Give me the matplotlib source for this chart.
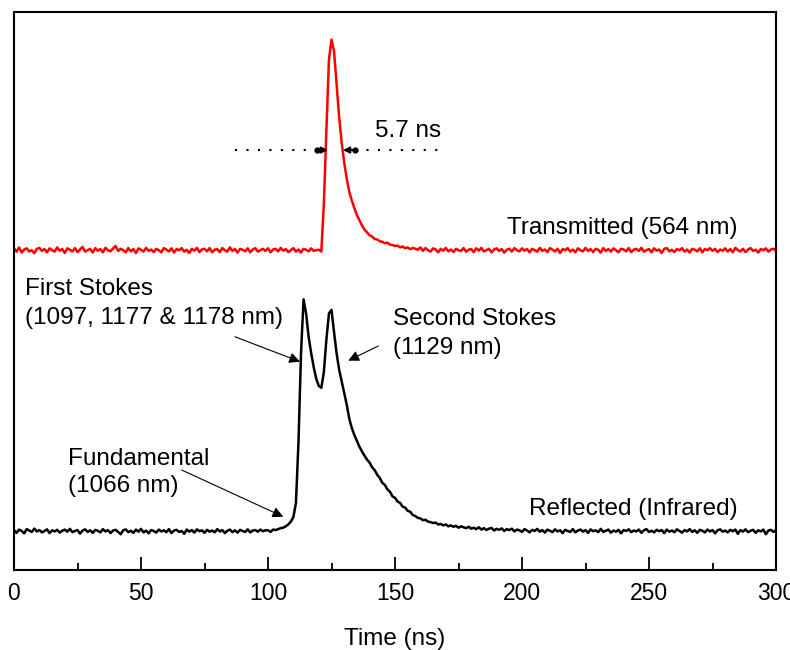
import matplotlib
matplotlib.use("Agg")
import matplotlib.pyplot as plt
import numpy as np
from matplotlib.ticker import MultipleLocator

plt.rcParams["font.family"] = ["Liberation Sans", "DejaVu Sans"]

# sampling grid of the scope traces (1 ns per sample)
time_ns = np.arange(0, 301, 1)

# reflected (infrared) signal, normalised to the first Stokes peak
reflected = [
    0.004, -0.008, 0.006, 0.000, -0.010, 0.008, 0.002, -0.004, 0.010, -0.002,
    0.004, -0.006, 0.000, 0.007, -0.009, 0.003, -0.002, 0.005, -0.007, 0.001,
    0.006, -0.003, 0.009, -0.005, 0.000, 0.004, -0.011, 0.002, 0.007, -0.004,
    0.003, -0.008, 0.005, 0.001, -0.006, 0.008, -0.002, 0.004, -0.009, 0.002,
    0.005, -0.004, -0.014, 0.003, 0.007, -0.005, 0.001, -0.008, 0.006, -0.003,
    0.009, -0.006, 0.002, -0.010, 0.004, 0.000, -0.007, 0.006, -0.002, 0.003,
    -0.005, 0.008, -0.009, 0.002, 0.005, -0.004, 0.000, -0.012, 0.006, -0.003,
    0.004, -0.007, 0.007, -0.001, 0.003, -0.008, 0.005, -0.003, 0.002, -0.006,
    0.008, -0.002, 0.004, -0.009, 0.001, 0.006, -0.005, 0.003, -0.007, 0.005,
    0.000, -0.004, 0.007, -0.006, 0.002, 0.004, -0.003, 0.006, -0.001, 0.003,
    0.003, -0.004, 0.006, 0.004, 0.008, 0.012, 0.014, 0.020, 0.028, 0.040,
    0.060, 0.120, 0.380, 0.760, 0.990, 0.930, 0.830, 0.760, 0.700, 0.650,
    0.620, 0.612, 0.680, 0.820, 0.930, 0.945, 0.850, 0.760, 0.690, 0.640,
    0.590, 0.540, 0.480, 0.440, 0.410, 0.385, 0.360, 0.340, 0.322, 0.305,
    0.292, 0.272, 0.260, 0.240, 0.227, 0.206, 0.197, 0.178, 0.168, 0.148,
    0.142, 0.126, 0.120, 0.104, 0.100, 0.086, 0.082, 0.068, 0.064, 0.056,
    0.054, 0.046, 0.048, 0.040, 0.038, 0.034, 0.036, 0.028, 0.030, 0.024,
    0.028, 0.020, 0.024, 0.018, 0.022, 0.014, 0.020, 0.016, 0.012, 0.018,
    0.010, 0.014, 0.008, 0.016, 0.006, 0.012, 0.004, 0.010, 0.013, 0.002,
    0.009, 0.005, 0.011, 0.000, 0.008, 0.004, 0.010, -0.002, 0.006, 0.003,
    -0.004, 0.008, 0.002, -0.006, 0.005, 0.000, 0.009, -0.003, 0.004, -0.007,
    0.006, 0.001, -0.005, 0.007, -0.002, 0.003, -0.009, 0.005, 0.000, -0.004,
    0.008, -0.006, 0.002, 0.006, -0.003, 0.004, -0.008, 0.007, -0.001, 0.003,
    -0.005, 0.009, -0.004, 0.001, 0.006, -0.007, 0.002, -0.003, 0.005, -0.010,
    0.004, 0.000, 0.007, -0.005, 0.002, -0.002, 0.006, -0.008, 0.003, 0.008,
    -0.004, 0.001, -0.006, 0.005, -0.001, 0.004, -0.009, 0.006, -0.003, 0.002,
    -0.005, 0.007, 0.000, -0.007, 0.004, -0.002, 0.008, -0.004, 0.003, -0.008,
    0.005, 0.001, -0.006, 0.006, -0.002, 0.004, -0.010, 0.003, 0.007, -0.003,
    0.002, -0.006, 0.005, -0.001, 0.006, -0.012, 0.004, -0.003, 0.007, -0.005,
    0.001, 0.005, -0.008, 0.003, -0.002, 0.006, -0.014, 0.002, 0.005, -0.004,
    0.003,
]

# transmitted (564 nm) signal, same scale
transmitted = [
    0.009, -0.006, 0.012, -0.010, 0.003, 0.008, -0.005, 0.000, -0.013, 0.006,
    0.010, -0.003, 0.005, -0.009, 0.008, 0.000, -0.006, 0.012, -0.002, 0.005,
    -0.012, 0.008, 0.002, -0.005, 0.009, -0.008, 0.003, 0.014, -0.006, 0.000,
    0.006, -0.010, 0.009, -0.002, 0.005, -0.009, 0.010, 0.000, -0.005, 0.008,
    0.018, -0.003, 0.006, 0.000, -0.009, 0.009, -0.005, 0.005, -0.012, 0.008,
    0.002, -0.006, 0.010, -0.003, 0.003, -0.008, 0.006, 0.000, -0.009, 0.009,
    0.003, -0.005, 0.008, -0.010, 0.005, 0.000, 0.009, -0.006, 0.002, -0.012,
    0.006, -0.002, 0.010, -0.008, 0.003, 0.006, -0.005, 0.009, -0.009, 0.002,
    0.005, -0.008, 0.009, 0.000, -0.006, 0.012, -0.003, 0.005, -0.010, 0.006,
    0.002, -0.005, 0.008, -0.009, 0.003, 0.009, -0.006, 0.000, 0.006, -0.003,
    0.008, -0.009, 0.003, 0.006, -0.005, 0.010, -0.002, 0.005, -0.008, 0.000,
    0.009, -0.006, 0.003, -0.010, 0.006, 0.002, -0.005, 0.008, -0.003, 0.000,
    0.002, -0.006, 0.200, 0.516, 0.815, 0.900, 0.850, 0.710, 0.570, 0.460,
    0.375, 0.305, 0.250, 0.212, 0.180, 0.150, 0.128, 0.106, 0.088, 0.076,
    0.064, 0.058, 0.048, 0.046, 0.038, 0.036, 0.030, 0.032, 0.024, 0.022,
    0.018, 0.020, 0.012, 0.016, 0.008, 0.012, 0.004, 0.010, 0.006, 0.002,
    0.012, -0.003, 0.009, 0.000, -0.006, 0.008, 0.003, -0.009, 0.006, -0.002,
    0.010, -0.005, 0.003, -0.008, 0.006, 0.000, -0.003, 0.009, -0.006, 0.002,
    0.005, -0.008, 0.008, -0.002, 0.010, -0.005, 0.000, 0.006, -0.009, 0.003,
    0.008, -0.003, 0.005, -0.010, 0.002, 0.006, -0.006, 0.009, 0.000, -0.005,
    0.008, -0.002, 0.005, -0.009, 0.006, 0.000, -0.006, 0.010, -0.003, 0.003,
    -0.008, 0.009, 0.002, -0.005, 0.006, -0.012, 0.005, 0.000, 0.009, -0.006,
    0.003, -0.009, 0.008, 0.000, -0.005, 0.010, -0.003, 0.005, -0.008, 0.006,
    0.002, -0.010, 0.009, -0.003, 0.005, -0.006, 0.008, 0.000, -0.009, 0.006,
    0.003, -0.005, 0.009, -0.008, 0.002, 0.006, -0.003, 0.010, -0.006, 0.000,
    0.005, -0.009, 0.008, -0.002, 0.003, -0.012, 0.006, 0.009, -0.005, 0.002,
    -0.008, 0.005, 0.000, 0.009, -0.006, 0.003, -0.010, 0.006, 0.002, -0.005,
    0.008, -0.009, 0.005, 0.000, 0.009, -0.003, 0.006, -0.008, 0.003, -0.002,
    0.008, -0.006, 0.005, -0.009, 0.010, 0.000, -0.005, 0.006, -0.008, 0.003,
    0.009, -0.003, 0.002, -0.010, 0.005, 0.000, 0.008, -0.006, 0.003, 0.006,
    -0.002,
]

transmitted_offset = 1.2

fig = plt.figure(figsize=(7.9, 6.5), dpi=100)
ax = fig.add_axes([14 / 790, 80 / 650, 762 / 790, 558 / 650])

ax.plot(time_ns, reflected, color="black", lw=1.8)
ax.plot(time_ns, np.array(transmitted) + transmitted_offset, color="#ff0000", lw=1.8)

ax.set_xlim(0, 300)
ax.set_ylim(-0.1667, 2.218)
ax.set_yticks([])
ax.xaxis.set_major_locator(MultipleLocator(50))
ax.xaxis.set_minor_locator(MultipleLocator(25))
ax.tick_params(axis="x", which="major", direction="in", length=9.5, width=1.3,
               labelsize=16.5, pad=9)
ax.tick_params(axis="x", which="minor", direction="in", length=5, width=1.3)
for sp in ax.spines.values():
    sp.set_linewidth(1.5)
ax.set_xlabel("Time (ns)", fontsize=17.5, labelpad=16)

fs = 17.5
ax.text(285, 1.269, "Transmitted (564 nm)", fontsize=fs, ha="right", va="baseline")
ax.text(285, 0.068, "Reflected (Infrared)", fontsize=fs, ha="right", va="baseline")
ax.text(142.1, 1.684, "5.7 ns", fontsize=fs, ha="left", va="baseline")
ax.text(4.3, 1.0085, "First Stokes", fontsize=fs, ha="left", va="baseline")
ax.text(4.3, 0.8846, "(1097, 1177 & 1178 nm)", fontsize=fs, ha="left", va="baseline")
ax.text(149.2, 0.880, "Second Stokes", fontsize=fs, ha="left", va="baseline")
ax.text(149.2, 0.756, "(1129 nm)", fontsize=fs, ha="left", va="baseline")
ax.text(21.4, 0.282, "Fundamental", fontsize=fs, ha="left", va="baseline")
ax.text(21.4, 0.1667, "(1066 nm)", fontsize=fs, ha="left", va="baseline")

thin = dict(arrowstyle="-|>", lw=0.8, color="black", mutation_scale=16,
            shrinkA=0, shrinkB=0)
ax.annotate("", xy=(112.6, 0.7235), xytext=(87.0, 0.830), arrowprops=thin)
ax.annotate("", xy=(131.6, 0.728), xytext=(143.4, 0.7906), arrowprops=thin)
ax.annotate("", xy=(106.0, 0.061), xytext=(66.0, 0.2607), arrowprops=thin)

# FWHM marker
fwhm_y = 1.628
ax.plot([87.0, 119.2], [fwhm_y, fwhm_y], color="black", lw=1.5, ls=(0, (1, 4.5)))
ax.plot([134.3, 169.7], [fwhm_y, fwhm_y], color="black", lw=1.5, ls=(0, (1, 4.5)))
ax.plot([119.2, 134.3], [fwhm_y, fwhm_y], "o", color="black", ms=3.5, ls="none")
thick = dict(arrowstyle="-|>", lw=1.5, color="black", mutation_scale=9,
             shrinkA=0, shrinkB=0)
ax.annotate("", xy=(123.6, fwhm_y), xytext=(119.2, fwhm_y), arrowprops=thick)
ax.annotate("", xy=(129.5, fwhm_y), xytext=(134.3, fwhm_y), arrowprops=thick)

fig.savefig("out.png", dpi=100)
